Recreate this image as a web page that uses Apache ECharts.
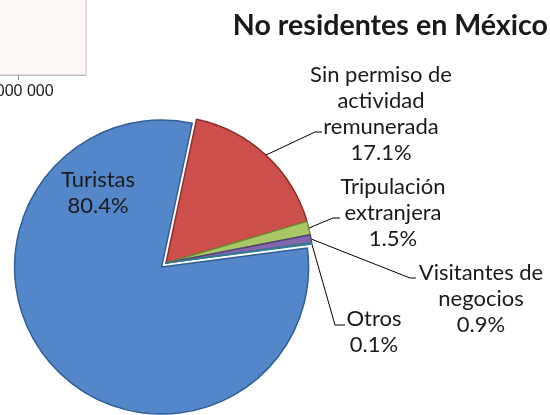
<!DOCTYPE html>
<html><head><meta charset="utf-8">
<script src="https://cdn.jsdelivr.net/npm/echarts@6/dist/echarts.min.js"></script>
<style>html,body{margin:0;padding:0;background:#fff}#c{width:550px;height:415px}</style>
</head><body><div id="c"></div>
<script>
// Pie data
const categories = ['Sin permiso de actividad remunerada', 'Tripulación extranjera', 'Visitantes de negocios', 'Otros', 'Turistas'];
const labelTexts = ['Sin permiso de\nactividad\nremunerada', 'Tripulación\nextranjera', 'Visitantes de\nnegocios', 'Otros', 'Turistas'];
const shares = [17.1, 1.5, 0.9, 0.1, 80.4];
const explodedIndex = 4; // "Turistas" slice is pulled out
// Fragment of the neighbouring chart (only its axis is visible)
const fragmentAxisMin = 0;
const fragmentAxisMax = 1200000;
const fragmentTicks = [1000000];

const sliceColors = ['#CD4F4B', '#A8C765', '#8367AD', '#4BACC6', '#5387C9'];
const sliceBorders = ['#8E2F2B', '#6E8C33', '#56407A', '#2E7F96', '#2F5F95'];
const labelPlacement = [
  {x: 381, y: 114, elbow: [315, 132], end: [322, 132]},
  {x: 393, y: 213, elbow: [333, 218], end: [340, 218]},
  {x: 481, y: 299, elbow: [410, 278], end: [416, 278]},
  {x: 374, y: 332, elbow: [335, 325], end: [345, 325]},
  {x: 98, y: 193}
];

const pieCenter = [166, 263];
const explodeDist = 6;
const total = shares.reduce((a, b) => a + b, 0);
const startDeg = 12; // clockwise from 12 o'clock
let before = 0;
for (let i = 0; i < explodedIndex; i++) before += shares[i];
const midDeg = startDeg + (before + shares[explodedIndex] / 2) / total * 360;
const midRad = midDeg * Math.PI / 180;
const explodedCenter = [pieCenter[0] + explodeDist * Math.sin(midRad), pieCenter[1] - explodeDist * Math.cos(midRad)];

const fmtThousands = v => String(v).replace(/\B(?=(\d{3})+(?!\d))/g, ' ');

const baseLabel = {
  show: true,
  position: 'outside',
  formatter: p => labelTexts[p.dataIndex] + '\n' + shares[p.dataIndex].toFixed(1) + '%',
  fontFamily: 'Lato', fontSize: 22, lineHeight: 26, color: '#1a1a1a', align: 'center'
};
const layoutFn = function (p) {
  const pl = labelPlacement[p.dataIndex];
  const out = {x: pl.x, y: pl.y, align: 'center', verticalAlign: 'middle'};
  if (pl.elbow && p.labelLinePoints) {
    out.labelLinePoints = [p.labelLinePoints[0], pl.elbow, pl.end];
  }
  return out;
};
function makeData(visibleFn) {
  return categories.map((c, i) => {
    const vis = visibleFn(i);
    return {
      name: c,
      value: shares[i],
      itemStyle: vis ? {color: sliceColors[i], borderColor: sliceBorders[i], borderWidth: 1.5}
                     : {color: 'rgba(0,0,0,0)', borderWidth: 0},
      label: {show: vis},
      labelLine: {show: vis && i !== explodedIndex}
    };
  });
}

const chart = echarts.init(document.getElementById('c'), null, {renderer: 'canvas'});
chart.setOption({
  animation: false,
  backgroundColor: '#ffffff',
  title: {
    text: 'No residentes en México',
    right: 2, top: 11, padding: 0,
    textStyle: {fontFamily: 'Lato', fontWeight: 'bold', fontSize: 28.6, color: '#1a1a1a'}
  },
  grid: {
    left: -322, top: -40, width: 408, height: 115,
    outerBoundsMode: 'none', containLabel: false,
    show: true, backgroundColor: '#FDF8F5', borderColor: '#BFBFBF', borderWidth: 1
  },
  xAxis: {
    type: 'value', min: fragmentAxisMin, max: fragmentAxisMax,
    axisLine: {show: true, lineStyle: {color: '#BFBFBF'}},
    axisTick: {show: true, customValues: fragmentTicks, length: 5, lineStyle: {color: '#8C8C8C'}},
    axisLabel: {customValues: fragmentTicks, formatter: fmtThousands, fontFamily: 'Liberation Sans', fontSize: 16, color: '#1a1a1a', margin: 9},
    splitLine: {show: false}
  },
  yAxis: {type: 'category', show: false, data: []},
  series: [{
    type: 'pie',
    center: explodedCenter,
    radius: 147,
    startAngle: 90 - startDeg,
    clockwise: true,
    silent: true,
    avoidLabelOverlap: false,
    emphasis: {disabled: true},
    data: makeData(i => i === explodedIndex),
    label: baseLabel,
    labelLine: {show: false},
    labelLayout: layoutFn
  }, {
    type: 'pie',
    center: pieCenter,
    radius: 147,
    startAngle: 90 - startDeg,
    clockwise: true,
    silent: true,
    avoidLabelOverlap: false,
    emphasis: {disabled: true},
    data: makeData(i => i !== explodedIndex),
    label: baseLabel,
    labelLine: {show: true, lineStyle: {color: '#000', width: 1}},
    labelLayout: layoutFn
  }]
});
</script>
</body></html>
